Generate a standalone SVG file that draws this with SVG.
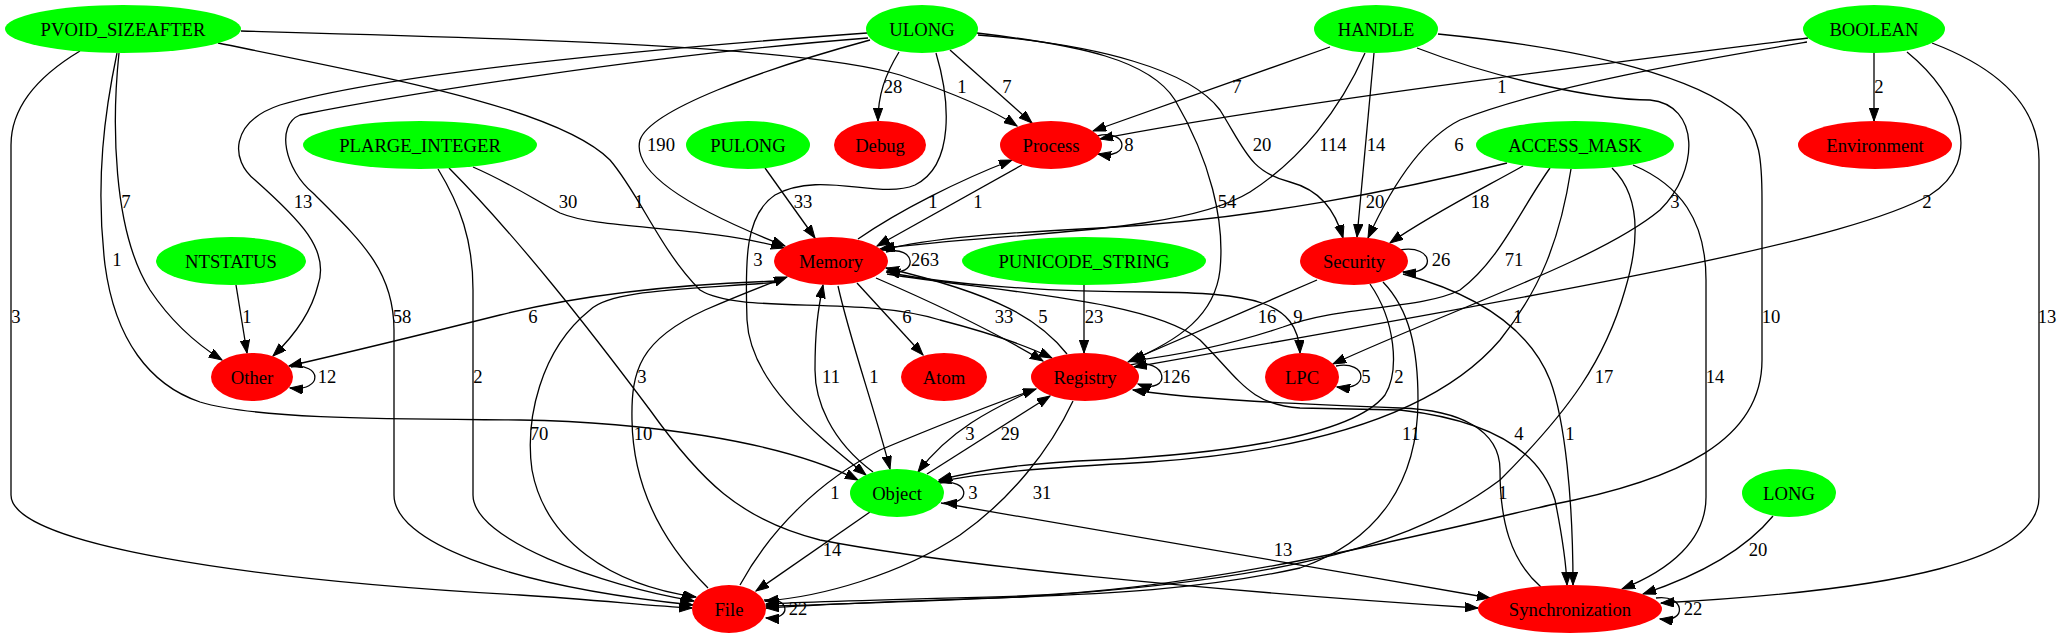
<svg xmlns="http://www.w3.org/2000/svg" width="2063" height="639" viewBox="0 0 2063 639">
<style>
.g{fill:#00ff00}
.r{fill:#ff0000}
.t{font-family:"Liberation Serif","Times New Roman",serif;font-size:18.67px;text-anchor:middle;fill:#000}
.e path{fill:none;stroke:#000;stroke-width:1.3;marker-end:url(#ah)}
.l text{font-family:"Liberation Serif","Times New Roman",serif;font-size:18.67px;text-anchor:middle;fill:#000}
</style>
<defs>
<marker id="ah" markerUnits="userSpaceOnUse" markerWidth="14" markerHeight="10" refX="13" refY="4.7" orient="auto">
<path d="M0,0 L13,4.7 L0,9.4 z" fill="#000" stroke="#000" stroke-width="1"/>
</marker>
</defs>
<rect width="2063" height="639" fill="#fff"/>
<g id="edges" class="e">
<path d="M80,51 C40,75 11,105 11,145 L11,495 C11,545 250,580 520,595 C600,600 650,606 692,608"/>
<path d="M117,53 C105,110 95,180 105,265 C115,340 150,385 200,402 C260,420 400,419 520,420 C640,422 780,440 858,480"/>
<path d="M119,53 C112,120 112,230 150,290 C170,320 195,343 222,360"/>
<path d="M241,31 C500,38 800,45 900,75 C950,92 990,108 1017,126"/>
<path d="M218,43 C400,80 560,110 610,160 C640,195 660,250 700,290 C740,315 860,295 940,320 C990,333 1025,345 1052,358"/>
<path d="M867,33 C700,45 400,70 280,105 C230,122 230,160 255,180 C300,220 330,250 318,285 C312,310 295,335 273,356"/>
<path d="M868,38 C650,55 400,95 300,115 C275,125 285,170 313,193 C360,240 394,270 394,330 L394,495 C394,540 500,585 693,605"/>
<path d="M870,40 C760,70 650,110 640,140 C632,170 680,205 785,246"/>
<path d="M899,52 C885,75 878,95 878,121"/>
<path d="M950,50 L1032,123"/>
<path d="M936,53 C950,100 955,165 915,185 C880,200 820,170 775,195 C745,215 745,260 747,320 C750,380 810,430 866,475"/>
<path d="M978,35 C1100,45 1190,70 1220,110 C1245,150 1250,172 1290,182 C1320,190 1335,210 1343,238"/>
<path d="M977,33 C1080,45 1150,60 1175,100 C1210,160 1225,220 1220,270 C1215,315 1180,340 1128,362"/>
<path d="M1330,47 L1093,131"/>
<path d="M1808,38 C1700,52 1300,100 1100,139"/>
<path d="M1097,136 C1128,128 1132,160 1098,154"/>
<path d="M858,239 C900,210 960,180 1012,160"/>
<path d="M1022,165 L877,246"/>
<path d="M765,168 L815,238"/>
<path d="M473,167 C510,183 535,200 560,213 C600,230 700,225 784,248"/>
<path d="M438,169 C460,205 473,240 473,290 L473,495 C473,540 600,585 694,601"/>
<path d="M449,168 C520,240 590,330 650,410 C700,480 740,520 820,540 C950,565 1200,590 1478,608"/>
<path d="M236,285 L247,353"/>
<path d="M778,281 C650,285 560,300 500,315 C420,335 350,352 289,366"/>
<path d="M780,282 C680,290 610,290 590,310 C540,350 525,420 532,470 C545,540 610,585 696,597"/>
<path d="M886,252 C916,244 920,278 887,271"/>
<path d="M857,283 L923,355"/>
<path d="M838,286 C850,340 875,410 890,469"/>
<path d="M873,472 C830,440 815,400 815,370 C815,330 818,310 823,285"/>
<path d="M876,278 C950,310 1000,335 1043,361"/>
<path d="M1067,354 C1040,320 1000,295 886,268"/>
<path d="M1130,365 C1170,356 1172,396 1138,384"/>
<path d="M1084,285 L1084,353"/>
<path d="M886,272 C950,285 1050,292 1150,292 C1250,293 1298,300 1300,353"/>
<path d="M887,274 C1000,292 1150,300 1200,340 C1240,380 1250,405 1300,408 L1400,410 C1490,420 1540,450 1555,500 C1563,540 1566,560 1567,585"/>
<path d="M1403,274 C1480,295 1530,330 1550,380 C1565,420 1573,500 1573,585"/>
<path d="M1633,165 C1680,185 1706,220 1706,280 L1706,497 C1706,540 1670,570 1622,589"/>
<path d="M1612,168 C1640,195 1640,240 1625,290 C1605,360 1570,410 1500,480 C1420,540 1300,580 1020,597 C900,602 820,605 766,606"/>
<path d="M1571,169 C1560,240 1540,290 1500,340 C1440,410 1320,450 1150,462 C1040,468 980,473 938,482"/>
<path d="M1370,284 C1395,320 1400,370 1385,395 C1350,440 1200,455 1100,460 C1020,463 970,472 939,480"/>
<path d="M940,483 C970,478 972,505 944,503"/>
<path d="M1033,390 C990,410 950,430 918,472"/>
<path d="M927,474 L1050,396"/>
<path d="M740,585 C770,530 820,480 880,450 C940,425 990,405 1036,389"/>
<path d="M1073,401 C1050,450 1010,500 960,535 C900,575 820,597 765,601"/>
<path d="M870,512 L756,591"/>
<path d="M764,600 C790,596 793,620 766,618"/>
<path d="M941,503 C1100,530 1300,565 1490,598"/>
<path d="M1541,587 C1510,560 1500,520 1500,470 C1500,430 1460,410 1400,408 C1300,404 1200,400 1133,390"/>
<path d="M1656,598 C1685,594 1688,623 1660,619"/>
<path d="M1773,516 C1745,550 1700,575 1643,594"/>
<path d="M1932,43 C1990,65 2039,100 2039,160 L2039,497 C2039,560 1900,590 1661,603"/>
<path d="M1438,34 C1600,50 1700,80 1740,115 C1760,135 1762,160 1762,200 L1762,360 C1762,440 1680,480 1550,505 C1400,540 1200,590 1020,596 C880,600 800,602 766,604"/>
<path d="M1383,282 C1410,310 1418,350 1418,400 C1418,480 1380,540 1300,568 C1200,590 1100,594 1020,597 C900,601 810,605 766,608"/>
<path d="M1417,48 C1500,80 1600,100 1650,100 C1700,105 1700,170 1660,210 C1600,260 1450,310 1333,364"/>
<path d="M1365,53 C1340,110 1300,160 1250,192 C1180,235 1000,232 880,249"/>
<path d="M1507,163 C1400,190 1250,220 1100,228 C1000,233 930,238 882,250"/>
<path d="M1374,53 L1357,237"/>
<path d="M1807,42 C1700,60 1550,85 1460,120 C1420,140 1390,190 1368,238"/>
<path d="M1874,53 L1874,121"/>
<path d="M1907,52 C1960,95 1985,160 1930,195 C1850,240 1600,285 1134,367"/>
<path d="M1550,168 C1520,210 1500,260 1460,290 C1420,310 1340,305 1283,327 C1230,345 1180,355 1131,361"/>
<path d="M1523,166 C1480,190 1430,215 1390,243"/>
<path d="M1400,250 C1435,244 1437,276 1403,272"/>
<path d="M1317,280 L1132,360"/>
<path d="M1336,366 C1368,360 1370,392 1337,387"/>
<path d="M291,367 C322,362 324,392 290,388"/>
<path d="M708,588 C665,545 633,490 632,420 C631,370 640,340 705,310 C740,295 760,287 787,277"/>
</g>
<g id="edge-labels" class="l">
<text x="893" y="93">28</text><text x="962" y="93">1</text><text x="1007" y="93">7</text><text x="1237" y="93">7</text><text x="1502" y="93">1</text><text x="1879" y="93">2</text>
<text x="661" y="151">190</text><text x="1262" y="151">20</text><text x="1333" y="151">114</text><text x="1376" y="151">14</text><text x="1459" y="151">6</text><text x="1129" y="151">8</text>
<text x="126" y="208">7</text><text x="303" y="208">13</text><text x="568" y="208">30</text><text x="639" y="208">1</text><text x="803" y="208">33</text><text x="933" y="208">1</text><text x="978" y="208">1</text><text x="1227" y="208">54</text><text x="1375" y="208">20</text><text x="1480" y="208">18</text><text x="1675" y="208">3</text><text x="1927" y="208">2</text>
<text x="117" y="266">1</text><text x="758" y="266">3</text><text x="925" y="266">263</text><text x="1441" y="266">26</text><text x="1514" y="266">71</text>
<text x="16" y="323">3</text><text x="247" y="323">1</text><text x="402" y="323">58</text><text x="533" y="323">6</text><text x="907" y="323">6</text><text x="1004" y="323">33</text><text x="1043" y="323">5</text><text x="1094" y="323">23</text><text x="1267" y="323">16</text><text x="1298" y="323">9</text><text x="1518" y="323">1</text><text x="1771" y="323">10</text><text x="2047" y="323">13</text>
<text x="327" y="383">12</text><text x="478" y="383">2</text><text x="642" y="383">3</text><text x="831" y="383">11</text><text x="874" y="383">1</text><text x="1176" y="383">126</text><text x="1366" y="383">5</text><text x="1399" y="383">2</text><text x="1604" y="383">17</text><text x="1715" y="383">14</text>
<text x="539" y="440">70</text><text x="643" y="440">10</text><text x="970" y="440">3</text><text x="1010" y="440">29</text><text x="1411" y="440">11</text><text x="1519" y="440">4</text><text x="1570" y="440">1</text>
<text x="973" y="499">3</text><text x="835" y="499">1</text><text x="1042" y="499">31</text><text x="1503" y="499">1</text>
<text x="832" y="556">14</text><text x="1283" y="556">13</text><text x="1758" y="556">20</text>
<text x="798" y="615">22</text><text x="1693" y="615">22</text>
</g>
<g id="n_PVOID_SIZEAFTER"><ellipse class="g" cx="123" cy="29" rx="118" ry="24"/><text class="t" x="123" y="35.5">PVOID_SIZEAFTER</text></g>
<g id="n_ULONG"><ellipse class="g" cx="922" cy="29" rx="56" ry="24"/><text class="t" x="922" y="35.5">ULONG</text></g>
<g id="n_HANDLE"><ellipse class="g" cx="1376" cy="29" rx="62" ry="24"/><text class="t" x="1376" y="35.5">HANDLE</text></g>
<g id="n_BOOLEAN"><ellipse class="g" cx="1874" cy="29" rx="71" ry="24"/><text class="t" x="1874" y="35.5">BOOLEAN</text></g>
<g id="n_PLARGE_INTEGER"><ellipse class="g" cx="420" cy="145" rx="117" ry="24"/><text class="t" x="420" y="151.5">PLARGE_INTEGER</text></g>
<g id="n_PULONG"><ellipse class="g" cx="748" cy="145" rx="62" ry="24"/><text class="t" x="748" y="151.5">PULONG</text></g>
<g id="n_Debug"><ellipse class="r" cx="880" cy="145" rx="46" ry="24"/><text class="t" x="880" y="151.5">Debug</text></g>
<g id="n_Process"><ellipse class="r" cx="1051" cy="145" rx="51" ry="24"/><text class="t" x="1051" y="151.5">Process</text></g>
<g id="n_ACCESS_MASK"><ellipse class="g" cx="1575" cy="145" rx="99" ry="24"/><text class="t" x="1575" y="151.5">ACCESS_MASK</text></g>
<g id="n_Environment"><ellipse class="r" cx="1875" cy="145" rx="77" ry="24"/><text class="t" x="1875" y="151.5">Environment</text></g>
<g id="n_NTSTATUS"><ellipse class="g" cx="231" cy="261" rx="75" ry="24"/><text class="t" x="231" y="267.5">NTSTATUS</text></g>
<g id="n_Memory"><ellipse class="r" cx="831" cy="261" rx="57" ry="24"/><text class="t" x="831" y="267.5">Memory</text></g>
<g id="n_PUNICODE_STRING"><ellipse class="g" cx="1084" cy="261" rx="122" ry="24"/><text class="t" x="1084" y="267.5">PUNICODE_STRING</text></g>
<g id="n_Security"><ellipse class="r" cx="1354" cy="261" rx="54" ry="24"/><text class="t" x="1354" y="267.5">Security</text></g>
<g id="n_Other"><ellipse class="r" cx="252" cy="377" rx="41" ry="24"/><text class="t" x="252" y="383.5">Other</text></g>
<g id="n_Atom"><ellipse class="r" cx="944" cy="377" rx="43" ry="24"/><text class="t" x="944" y="383.5">Atom</text></g>
<g id="n_Registry"><ellipse class="r" cx="1085" cy="377" rx="54" ry="24"/><text class="t" x="1085" y="383.5">Registry</text></g>
<g id="n_LPC"><ellipse class="r" cx="1302" cy="377" rx="37" ry="24"/><text class="t" x="1302" y="383.5">LPC</text></g>
<g id="n_Object"><ellipse class="g" cx="897" cy="493" rx="47" ry="24"/><text class="t" x="897" y="499.5">Object</text></g>
<g id="n_LONG"><ellipse class="g" cx="1789" cy="493" rx="47" ry="24"/><text class="t" x="1789" y="499.5">LONG</text></g>
<g id="n_File"><ellipse class="r" cx="729" cy="609" rx="37" ry="24"/><text class="t" x="729" y="615.5">File</text></g>
<g id="n_Synchronization"><ellipse class="r" cx="1570" cy="609" rx="92" ry="24"/><text class="t" x="1570" y="615.5">Synchronization</text></g>
</svg>
